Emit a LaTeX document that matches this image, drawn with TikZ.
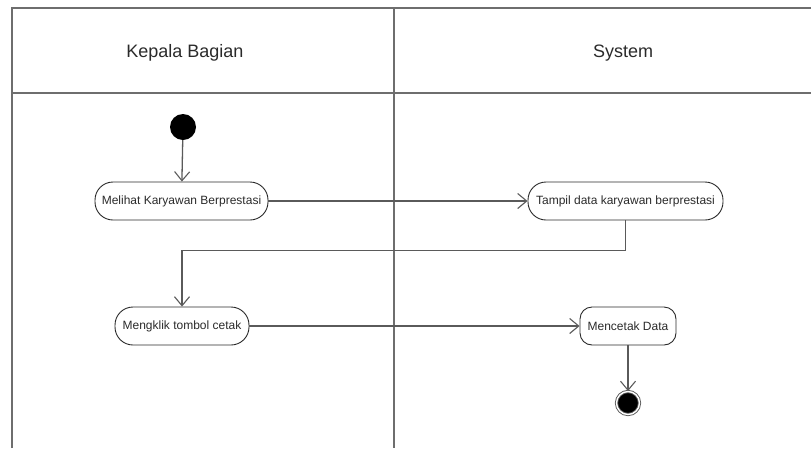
\documentclass[tikz,border=0pt]{standalone}
\usepackage{fontspec}
\setmainfont{Liberation Sans}
\usepackage{tikz}
\usetikzlibrary{arrows.meta}
\usetikzlibrary{positioning}
\definecolor{lanegray}{HTML}{6E6E6E}
\definecolor{linegray}{HTML}{5A5A5A}
\definecolor{textgray}{HTML}{2A2A2A}
\tikzset{
  lane/.style = {draw=lanegray, line width=1.6pt},
  lanetitle/.style = {anchor=base, inner sep=0pt, text=textgray,
    font=\fontsize{18}{20}\selectfont},
  act/.style = {rectangle, rounded corners=18pt, draw=textgray, line width=0.9pt,
    minimum height=38pt, inner sep=2pt, text=textgray,
    font=\fontsize{12}{14}\selectfont},% aktivitas
  start/.style = {circle, fill=black, minimum size=26pt, inner sep=0pt},% awal
  stop/.style = {circle, fill=black, draw=linegray, double=white,
    double distance=1.4pt, line width=0.9pt, minimum size=23pt, inner sep=0pt},% akhir
  flow/.style = {draw=linegray, line width=1.3pt,
    -{Straight Barb[length=9pt,width=15pt,line width=1.1pt]}}
}

\begin{document}
\begin{tikzpicture}[x=1pt,y=-1pt]
\useasboundingbox (0,0) rectangle (811,448);
% swimlane
\draw[lane] (12,448) -- (12,8) -- (811,8);
\draw[lane] (12,93) -- (811,93);
\draw[lane] (394,8) -- (394,448);
\node[lanetitle] (kabag) at (185,57) {Kepala Bagian};
\node[lanetitle] (sys) at (623,57) {System};

% aktivitas
\node[start] (awal) at (183,127) {};
\node[act, minimum width=173pt] (melihat) at (181.5,201) {Melihat Karyawan Berprestasi};
\node[act, minimum width=195pt] (tampil) at (625.5,201) {Tampil data karyawan berprestasi};
\node[act, minimum width=134pt] (mengklik) at (182,326) {Mengklik tombol cetak};
\node[act, minimum width=96pt, rounded corners=12pt] (cetak) at (628,326) {Mencetak Data};
\node[stop] (akhir) at (628,403) {};

% alur
\draw[flow] (awal) -- (melihat);
\draw[flow] (melihat) -- (tampil);
\draw[flow] (tampil.south) -- ++(0,30) -| (mengklik.north);
\draw[flow] (mengklik) -- (cetak);
\draw[flow] (cetak) -- (akhir);
\end{tikzpicture}
\end{document}
